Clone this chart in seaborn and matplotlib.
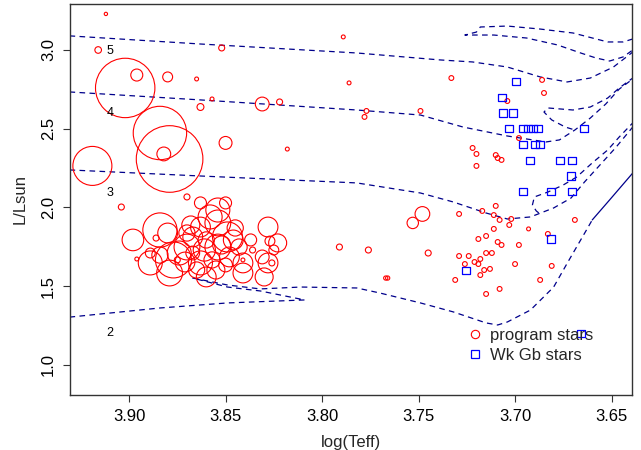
import numpy as np
import pandas as pd
import matplotlib
matplotlib.use("Agg")
import matplotlib.pyplot as plt
import seaborn as sns
from matplotlib.lines import Line2D

# ---------------- data ----------------
# program stars: log Teff, log L, symbol scale (R cex)
prog_logteff = [3.912, 3.916, 3.852, 3.789, 3.786, 3.902, 3.896, 3.880, 3.865, 3.857,
                3.863, 3.831, 3.822, 3.818, 3.850, 3.884, 3.879, 3.882, 3.919, 3.870,
                3.904, 3.898, 3.896, 3.791, 3.776, 3.767, 3.766, 3.777, 3.778, 3.749,
                3.733, 3.686, 3.685, 3.704, 3.698, 3.722, 3.720, 3.710, 3.709, 3.707,
                3.720, 3.748, 3.753, 3.729, 3.717, 3.710, 3.711, 3.708, 3.702, 3.703,
                3.711, 3.693, 3.683, 3.669, 3.719, 3.715, 3.709, 3.707, 3.698, 3.745,
                3.729, 3.724, 3.718, 3.721, 3.726, 3.719, 3.715, 3.712, 3.716, 3.713,
                3.718, 3.731, 3.700, 3.681, 3.687, 3.715, 3.708,
                3.884, 3.877, 3.889, 3.886, 3.889, 3.870, 3.867, 3.863, 3.858, 3.854,
                3.850, 3.863, 3.854, 3.854, 3.863, 3.860, 3.849, 3.848, 3.843, 3.841,
                3.846, 3.841, 3.836, 3.828, 3.827, 3.823, 3.831, 3.825, 3.830, 3.828,
                3.826, 3.841, 3.874, 3.879, 3.870, 3.880, 3.860, 3.867, 3.857, 3.875,
                3.868, 3.861, 3.852, 3.871, 3.855, 3.845, 3.865, 3.884, 3.837, 3.850]
prog_logl = [3.229, 3.000, 3.013, 3.083, 2.791, 2.759, 2.841, 2.829, 2.816, 2.689,
             2.638, 2.657, 2.670, 2.371, 2.410, 2.473, 2.308, 2.340, 2.264, 2.067,
             2.003, 1.794, 1.673, 1.749, 1.730, 1.552, 1.552, 2.613, 2.575, 2.613,
             2.822, 2.810, 2.727, 2.676, 2.441, 2.378, 2.340, 2.333, 2.314, 2.302,
             2.264, 1.959, 1.902, 1.959, 1.978, 2.010, 1.952, 1.921, 1.927, 1.889,
             1.864, 1.864, 1.832, 1.921, 1.800, 1.819, 1.781, 1.762, 1.762, 1.711,
             1.692, 1.692, 1.673, 1.654, 1.641, 1.641, 1.711, 1.711, 1.603, 1.610,
             1.571, 1.540, 1.641, 1.629, 1.540, 1.451, 1.483,
             1.857, 1.667, 1.648, 1.806, 1.711, 1.749, 1.813, 1.876, 1.940, 1.984,
             2.029, 2.029, 1.902, 1.749, 1.648, 1.559, 1.813, 1.686, 1.749, 1.648,
             1.794, 1.584, 1.730, 1.876, 1.787, 1.775, 1.686, 1.730, 1.559, 1.648,
             1.648, 1.667, 1.711, 1.584, 1.838, 1.838, 1.794, 1.711, 1.667, 1.667,
             1.889, 1.730, 1.762, 1.654, 1.603, 1.870, 1.603, 1.698, 1.794, 1.635]
prog_cex = [0.55, 1.1, 1.0, 0.65, 0.65, 9.9, 2.0, 1.65, 0.65, 0.65,
            1.15, 2.3, 1.0, 0.65, 2.15, 8.9, 11.1, 2.3, 6.5, 1.0,
            1.0, 3.6, 0.65, 1.0, 1.0, 0.7, 0.7, 0.8, 0.8, 0.8,
            0.8, 0.8, 0.8, 0.8, 0.8, 0.8, 0.8, 0.8, 0.8, 0.8,
            0.8, 2.45, 1.9, 0.8, 0.8, 0.8, 0.8, 0.8, 0.8, 0.8,
            0.8, 0.65, 0.8, 0.8, 0.8, 0.8, 0.8, 0.8, 0.8, 1.0,
            0.8, 0.8, 0.8, 0.8, 0.8, 0.8, 0.8, 0.8, 0.8, 0.8,
            0.8, 0.8, 0.8, 0.8, 0.8, 0.8, 0.8,
            5.7, 6.0, 4.0, 1.0, 1.65, 4.3, 3.3, 3.3, 4.0, 4.0,
            2.0, 2.0, 4.3, 4.3, 4.0, 3.3, 5.0, 3.3, 2.7, 3.3,
            3.3, 3.3, 1.0, 3.3, 1.65, 3.0, 2.3, 1.65, 3.0, 3.3,
            1.0, 0.65, 4.0, 4.3, 2.7, 3.3, 2.7, 2.3, 2.7, 1.0,
            3.0, 3.7, 3.0, 3.3, 3.0, 2.7, 2.7, 2.7, 2.0, 2.3]

# Wk Gb stars
wk_logteff = [3.6995, 3.7067, 3.7062, 3.7010, 3.7031, 3.6959, 3.6933, 3.6907, 3.6881,
              3.6642, 3.6959, 3.6896, 3.6870, 3.6922, 3.6767, 3.6705, 3.6710, 3.6959,
              3.6813, 3.6705, 3.6813, 3.7254, 3.6658]
wk_logl = [2.8, 2.7, 2.6, 2.6, 2.5, 2.5, 2.5, 2.5, 2.5,
           2.5, 2.4, 2.4, 2.4, 2.3, 2.3, 2.3, 2.2, 2.1,
           2.1, 2.1, 1.8, 1.6, 1.2]

# evolutionary tracks (log Teff, log L)
trk5_x = [3.936, 3.930, 3.863, 3.782, 3.739, 3.722, 3.704, 3.687, 3.673, 3.661, 3.649, 3.639, 3.633]
trk5_y = [3.095, 3.089, 3.038, 2.981, 2.937, 2.924, 2.892, 2.829, 2.797, 2.822, 2.892, 2.987, 3.032]
loop5_x = [3.633, 3.639, 3.644, 3.652, 3.670, 3.687, 3.704, 3.718, 3.720, 3.726,
           3.711, 3.694, 3.678, 3.666, 3.658, 3.651, 3.644, 3.639, 3.633]
loop5_y = [3.102, 3.070, 3.051, 3.051, 3.108, 3.133, 3.152, 3.146, 3.114, 3.095,
           3.095, 3.076, 3.032, 2.981, 2.949, 2.930, 2.956, 3.000, 3.051]

trk4_x = [3.936, 3.930, 3.863, 3.782, 3.749, 3.727, 3.704, 3.684, 3.677, 3.669, 3.661, 3.653, 3.646, 3.639, 3.633]
trk4_y = [2.740, 2.733, 2.683, 2.619, 2.587, 2.511, 2.454, 2.416, 2.429, 2.492, 2.568, 2.657, 2.752, 2.816, 2.886]
loop4_x = [3.633, 3.639, 3.646, 3.652, 3.661, 3.670, 3.683, 3.685, 3.681, 3.674, 3.669]
loop4_y = [2.880, 2.822, 2.759, 2.695, 2.638, 2.619, 2.632, 2.606, 2.556, 2.511, 2.492]

trk3_x = [3.936, 3.930, 3.863, 3.782, 3.749, 3.732, 3.715, 3.704, 3.692, 3.680, 3.671, 3.664, 3.656, 3.648, 3.639, 3.633]
trk3_y = [2.244, 2.238, 2.200, 2.156, 2.092, 2.035, 1.965, 1.927, 1.940, 1.997, 2.060, 2.162, 2.270, 2.378, 2.511, 2.587]
loop3_x = [3.633, 3.639, 3.646, 3.652, 3.660, 3.668, 3.675, 3.683, 3.690, 3.691, 3.689, 3.687]
loop3_y = [2.600, 2.537, 2.448, 2.365, 2.283, 2.194, 2.143, 2.098, 2.067, 2.016, 1.978, 1.959]

trk2_x = [3.936, 3.930, 3.884, 3.849, 3.809, 3.832, 3.849, 3.867, 3.849, 3.832, 3.811, 3.782,
          3.770, 3.749, 3.732, 3.715, 3.709, 3.704, 3.692, 3.680, 3.672, 3.663, 3.660]
trk2_y = [1.298, 1.305, 1.362, 1.394, 1.413, 1.470, 1.495, 1.552, 1.508, 1.483, 1.495, 1.489,
          1.457, 1.394, 1.337, 1.267, 1.254, 1.273, 1.349, 1.495, 1.667, 1.857, 1.921]
rgb2_x = [3.660, 3.651, 3.639, 3.633]
rgb2_y = [1.921, 2.048, 2.219, 2.314]

mass_labels = ["5", "4", "3", "2"]
mass_label_y = [2.994, 2.600, 2.092, 1.203]
mass_label_x = 3.9098

x_ticks = [3.90, 3.85, 3.80, 3.75, 3.70, 3.65]
x_ticklabels = ["3.90", "3.85", "3.80", "3.75", "3.70", "3.65"]
y_ticks = [1.0, 1.5, 2.0, 2.5, 3.0]
y_ticklabels = ["1.0", "1.5", "2.0", "2.5", "3.0"]

# ---------------- plot ----------------
sns.set_theme(style="white")
plt.rcParams['font.family'] = ['Liberation Sans', 'DejaVu Sans']

fig = plt.figure(figsize=(6.41, 4.5), dpi=100)
ax = fig.add_axes([70 / 641, 1 - 395 / 450, 562 / 641, 391 / 450])

track_color = "#00008B"
dash = (0, (4.5, 3.5))
for tx, ty in [(trk5_x, trk5_y), (loop5_x, loop5_y), (trk4_x, trk4_y), (loop4_x, loop4_y),
               (trk3_x, trk3_y), (loop3_x, loop3_y), (trk2_x, trk2_y)]:
    df = pd.DataFrame({"logteff": tx, "logl": ty})
    sns.lineplot(data=df, x="logteff", y="logl", sort=False, estimator=None, ax=ax,
                 color=track_color, linewidth=0.9, linestyle=dash, zorder=2)
df = pd.DataFrame({"logteff": rgb2_x, "logl": rgb2_y})
sns.lineplot(data=df, x="logteff", y="logl", sort=False, estimator=None, ax=ax,
             color=track_color, linewidth=0.9, zorder=2)

prog = pd.DataFrame({"logteff": prog_logteff, "logl": prog_logl, "cex": prog_cex})
prog["area"] = (4.32 * prog["cex"]) ** 2
amin, amax = prog["area"].min(), prog["area"].max()
sns.scatterplot(data=prog, x="logteff", y="logl", size="area", sizes=(amin, amax),
                size_norm=(amin, amax), marker="o", facecolor="none", edgecolor="red",
                linewidth=0.8, legend=False, ax=ax, zorder=3)

wk = pd.DataFrame({"logteff": wk_logteff, "logl": wk_logl})
sns.scatterplot(data=wk, x="logteff", y="logl", marker="s", s=28, facecolor="none",
                edgecolor="blue", linewidth=0.9, legend=False, ax=ax, zorder=3)

for lab, ly in zip(mass_labels, mass_label_y):
    ax.text(mass_label_x, ly, lab, ha="center", va="center", fontsize=9, color="black")

ax.set_xlim(3.9306, 3.6394)
ax.set_ylim(0.8095, 3.292)
ax.set_xticks(x_ticks)
ax.set_xticklabels(x_ticklabels)
ax.set_yticks(y_ticks)
ax.set_yticklabels(y_ticklabels, rotation=90, va="center")
ax.tick_params(axis="both", direction="out", length=5, width=0.8, color="#333333",
               labelsize=12, pad=5, bottom=True, left=True, labelcolor="black")
for sp in ax.spines.values():
    sp.set_color("#333333")
    sp.set_linewidth(1.0)
    sp.set_visible(True)
ax.set_xlabel("log(Teff)", fontsize=12, labelpad=8)
ax.set_ylabel("L/Lsun", fontsize=12, labelpad=10)
ax.grid(False)

handles = [Line2D([], [], marker="o", linestyle="none", markerfacecolor="none",
                  markeredgecolor="red", markersize=6, markeredgewidth=0.8),
           Line2D([], [], marker="s", linestyle="none", markerfacecolor="none",
                  markeredgecolor="blue", markersize=5.5, markeredgewidth=0.9)]
ax.legend(handles, ["program stars", "Wk Gb stars"], loc="center left",
          bbox_to_anchor=(0.705, 0.1266), frameon=False, fontsize=12,
          handlelength=1.0, handletextpad=0.43, labelspacing=0.3,
          borderpad=0, borderaxespad=0)

fig.savefig("out.png", dpi=100)
